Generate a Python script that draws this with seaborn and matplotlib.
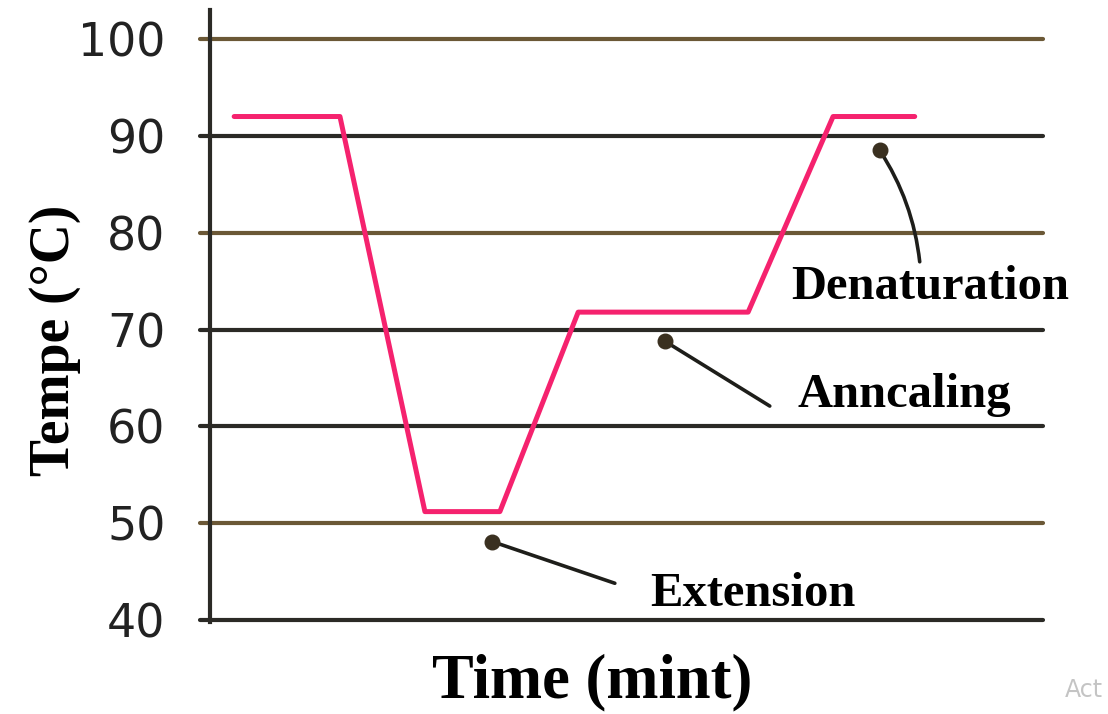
import matplotlib
matplotlib.use("Agg")
import matplotlib.pyplot as plt
import seaborn as sns
import pandas as pd

# ---- data ----
time_pts = [2.9, 15.6, 25.8, 34.8, 44.2, 64.6, 74.8, 84.6]
temp_pts = [92.0, 92.0, 51.2, 51.2, 71.8, 71.8, 92.0, 92.0]
y_ticks = [40, 50, 60, 70, 80, 90, 100]
grid_colors = ["#2b2a26", "#6b5836", "#2b2a26", "#2b2a26", "#6b5836", "#2b2a26", "#6b5836"]

labels = ["Denaturation", "Anncaling", "Extension"]
dot_t = [80.4, 54.6, 33.9]
dot_v = [88.5, 68.8, 48.1]
end_t = [85.2, 67.2, 48.6]
end_v = [77.0, 62.1, 43.8]
txt_t = [86.4, 83.3, 65.2]
txt_v = [74.4, 63.2, 42.7]
rads = [0.12, 0.0, 0.0]

sns.set_style("white")
plt.rcParams["font.family"] = ["DejaVu Sans"]

fig = plt.figure(figsize=(11.08, 7.14), dpi=100)
ax = fig.add_axes([210 / 1108, 92 / 714, 833 / 1108, 612 / 714])

df = pd.DataFrame({"Time": time_pts, "Temp": temp_pts})

for v, c in zip(y_ticks, grid_colors):
    ax.axhline(v, xmin=-0.012, xmax=1.0, color=c, lw=3.0, clip_on=False, zorder=1)

sns.lineplot(data=df, x="Time", y="Temp", sort=False, color="#f5226e", lw=3.6, ax=ax, zorder=3)

for lab, dx, dy, ex, ey, tx, ty, r in zip(labels, dot_t, dot_v, end_t, end_v, txt_t, txt_v, rads):
    ax.annotate("", xy=(dx, dy), xytext=(ex, ey),
                arrowprops=dict(arrowstyle="-", color="#1e1e1a", lw=2.6,
                                connectionstyle=f"arc3,rad={r}", shrinkA=0, shrinkB=0),
                zorder=4)
    ax.scatter([dx], [dy], s=110, color="#3a3020", zorder=5)
    ax.text(tx, ty, lab, ha="center", va="center", fontsize=35, fontweight="bold",
            family="Liberation Serif", color="black", zorder=6)

ax.set_xlim(0, 100)
ax.set_ylim(39.8, 103)
ax.set_yticks(y_ticks)
ax.set_yticklabels([str(v) for v in y_ticks], fontsize=33, color="#222222")
ax.tick_params(axis="y", length=0, pad=32)
ax.set_xticks([])
ax.set_xlabel("")
ax.set_ylabel("")
for s in ["top", "right", "bottom"]:
    ax.spines[s].set_visible(False)
ax.spines["left"].set_color("#2b2a26")
ax.spines["left"].set_linewidth(3.0)

fig.text(592 / 1108, 1 - 682 / 714, "Time (mint)", ha="center", va="center",
         fontsize=45, fontweight="bold", family="Liberation Serif", color="black")
fig.text(55 / 1108, 1 - 340 / 714, "Tempe (°C)", ha="center", va="center", rotation=90,
         fontsize=40, fontweight="bold", family="Liberation Serif", color="black")
fig.text(1065 / 1108, 1 - 690 / 714, "Act", ha="left", va="center",
         fontsize=17, color="#c4c4c4")

fig.savefig("out.png", dpi=100)
